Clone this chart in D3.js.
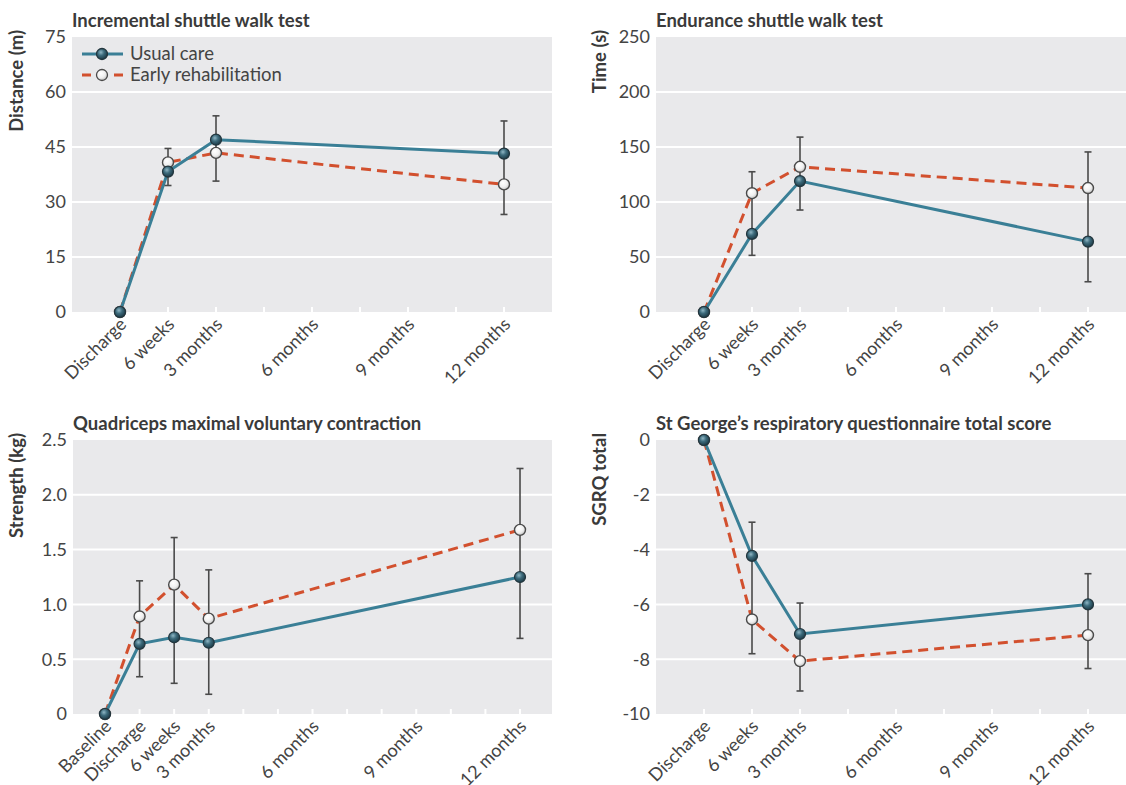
<!DOCTYPE html>
<html>
<head>
  <title>Rehabilitation outcomes</title>
  <style>
    body { margin: 0; background: #fff; }
    svg text { font-family: Lato, "Noto Sans", sans-serif; }
    .tick-label { font-size: 18px; fill: #444; }
    .panel-title { font-size: 18.5px; font-weight: bold; fill: #3a3a3a; }
    .y-title { font-size: 18.5px; font-weight: bold; fill: #3a3a3a; }
    .legend-label { font-size: 18.5px; fill: #444; }
  </style>
  <script src="https://d3js.org/d3.v7.min.js"></script>
</head>
<body>
  <div id="chart"></div>

  <script>
    // time points, as positions on an evenly spaced axis
    var visitLabels = ["Discharge", "6 weeks", "3 months", "", "6 months", "", "9 months", "", "12 months"];
    var visitPos = [0, 1, 2, 8];
    var strengthLabels = ["Baseline", "Discharge", "6 weeks", "3 months", "", "", "6 months", "", "", "9 months", "", "", "12 months"];
    var strengthPos = [0, 1, 2, 3, 12];

    // incremental shuttle walk test, distance (m)
    var iswtUsual = [0, 38.3, 47.0, 43.2];
    var iswtEarly = [0, 40.8, 43.4, 34.8];
    var iswtErrLow = [null, 34.5, 35.7, 26.6];
    var iswtErrHigh = [null, 44.6, 53.5, 52.1];
    var iswtTicks = [0, 15, 30, 45, 60, 75];

    // endurance shuttle walk test, time (s)
    var eswtUsual = [0, 71, 119, 64];
    var eswtEarly = [0, 108, 132, 112.7];
    var eswtErrLow = [null, 51.5, 92.7, 27.5];
    var eswtErrHigh = [null, 127.5, 159, 145.5];
    var eswtTicks = [0, 50, 100, 150, 200, 250];

    // quadriceps strength (kg)
    var quadUsual = [0, 0.64, 0.70, 0.65, 1.25];
    var quadEarly = [0, 0.89, 1.18, 0.87, 1.68];
    var quadErrLow = [null, 0.34, 0.28, 0.18, 0.69];
    var quadErrHigh = [null, 1.215, 1.61, 1.315, 2.24];
    var quadTicks = [0, 0.5, 1.0, 1.5, 2.0, 2.5];

    // SGRQ total score
    var sgrqUsual = [0, -4.23, -7.08, -6.0];
    var sgrqEarly = [0, -6.55, -8.07, -7.12];
    var sgrqErrLow = [null, -7.8, -9.16, -8.34];
    var sgrqErrHigh = [null, -3.0, -5.95, -4.88];
    var sgrqTicks = [-10, -8, -6, -4, -2, 0];

    var seriesNames = ["Usual care", "Early rehabilitation"];

    var blue = "#3a7f96";
    var red = "#d2502e";

    var svg = d3.select("#chart").append("svg")
      .attr("width", 1126)
      .attr("height", 785);

    // sphere-like marker fills
    var defs = svg.append("defs");
    var g1 = defs.append("radialGradient").attr("id", "usualFill")
      .attr("cx", "40%").attr("cy", "35%").attr("r", "65%");
    g1.append("stop").attr("offset", "0%").attr("stop-color", "#8fb6c4");
    g1.append("stop").attr("offset", "45%").attr("stop-color", "#3d6b7c");
    g1.append("stop").attr("offset", "100%").attr("stop-color", "#1d3a46");
    var g2 = defs.append("radialGradient").attr("id", "earlyFill")
      .attr("cx", "40%").attr("cy", "35%").attr("r", "65%");
    g2.append("stop").attr("offset", "0%").attr("stop-color", "#ffffff");
    g2.append("stop").attr("offset", "60%").attr("stop-color", "#f0f0f0");
    g2.append("stop").attr("offset", "100%").attr("stop-color", "#c4c4c4");

    function drawPanel(opt) {
      var x = d3.scaleLinear().domain(opt.xDomain).range([opt.left, opt.right]);
      var y = d3.scaleLinear().domain(opt.yDomain).range([opt.bottom, opt.top]);
      var g = svg.append("g");

      // plot background
      g.append("rect")
        .attr("x", opt.left).attr("y", opt.top)
        .attr("width", opt.right - opt.left)
        .attr("height", opt.bottom - opt.top)
        .attr("fill", "#e9e9eb");

      // grid lines
      g.selectAll(".grid").data(opt.yTicks.filter(function(d) {
          return d !== opt.yDomain[0] && d !== opt.yDomain[1];
        }))
        .enter().append("line")
        .attr("x1", opt.left).attr("x2", opt.right)
        .attr("y1", function(d) { return y(d); })
        .attr("y2", function(d) { return y(d); })
        .attr("stroke", "#fff").attr("stroke-width", 2);

      // y tick labels
      g.selectAll(".ylab").data(opt.yTicks).enter().append("text")
        .attr("class", "tick-label")
        .attr("x", opt.left - 6)
        .attr("y", function(d) { return y(d); })
        .attr("dy", "0.35em")
        .attr("text-anchor", "end")
        .text(opt.yFormat);

      // x ticks (white, inside plot) and labels
      var xTicks = d3.range(opt.xLabels.length);
      g.selectAll(".xtick").data(xTicks).enter().append("line")
        .attr("x1", function(d) { return x(d); })
        .attr("x2", function(d) { return x(d); })
        .attr("y1", opt.bottom - 5).attr("y2", opt.bottom)
        .attr("stroke", "#fff").attr("stroke-width", 2);

      g.selectAll(".xlab").data(xTicks.filter(function(d) { return opt.xLabels[d] !== ""; }))
        .enter().append("text")
        .attr("class", "tick-label")
        .attr("text-anchor", "end")
        .attr("transform", function(d) {
          return "translate(" + (x(d) + 3) + "," + (opt.bottom + 9) + ") rotate(-45)";
        })
        .attr("dy", "0.35em")
        .text(function(d) { return opt.xLabels[d]; });

      // titles
      g.append("text").attr("class", "panel-title")
        .attr("x", opt.left).attr("y", opt.top - 10)
        .text(opt.title);
      g.append("text").attr("class", "y-title")
        .attr("transform", "translate(" + opt.yTitleX + "," + (opt.top - 7) + ") rotate(-90)")
        .attr("text-anchor", "end")
        .attr("dy", "0.35em")
        .text(opt.yTitle);

      var line = d3.line()
        .x(function(d) { return x(d[0]); })
        .y(function(d) { return y(d[1]); });

      var usualPts = opt.xPos.map(function(p, i) { return [p, opt.usual[i]]; });
      var earlyPts = opt.xPos.map(function(p, i) { return [p, opt.early[i]]; });

      g.append("path").datum(earlyPts)
        .attr("d", line).attr("fill", "none")
        .attr("stroke", red).attr("stroke-width", 3)
        .attr("stroke-dasharray", "10,6");
      g.append("path").datum(usualPts)
        .attr("d", line).attr("fill", "none")
        .attr("stroke", blue).attr("stroke-width", 3);

      // error bars
      var errs = opt.xPos.map(function(p, i) { return [p, opt.errLow[i], opt.errHigh[i]]; })
        .filter(function(d) { return d[1] !== null; });
      var eb = g.selectAll(".err").data(errs).enter().append("g").attr("stroke", "#4a4a4a").attr("stroke-width", 1.6);
      eb.append("line")
        .attr("x1", function(d) { return x(d[0]); }).attr("x2", function(d) { return x(d[0]); })
        .attr("y1", function(d) { return y(d[1]); }).attr("y2", function(d) { return y(d[2]); });
      eb.append("line")
        .attr("x1", function(d) { return x(d[0]) - 3.5; }).attr("x2", function(d) { return x(d[0]) + 3.5; })
        .attr("y1", function(d) { return y(d[1]); }).attr("y2", function(d) { return y(d[1]); });
      eb.append("line")
        .attr("x1", function(d) { return x(d[0]) - 3.5; }).attr("x2", function(d) { return x(d[0]) + 3.5; })
        .attr("y1", function(d) { return y(d[2]); }).attr("y2", function(d) { return y(d[2]); });

      // markers
      g.selectAll(".mEarly").data(earlyPts).enter().append("circle")
        .attr("cx", function(d) { return x(d[0]); })
        .attr("cy", function(d) { return y(d[1]); })
        .attr("r", 5.5)
        .attr("fill", "url(#earlyFill)")
        .attr("stroke", "#4a4a4a").attr("stroke-width", 1.4);
      g.selectAll(".mUsual").data(usualPts).enter().append("circle")
        .attr("cx", function(d) { return x(d[0]); })
        .attr("cy", function(d) { return y(d[1]); })
        .attr("r", 5.5)
        .attr("fill", "url(#usualFill)")
        .attr("stroke", "#23363e").attr("stroke-width", 1.2);
    }

    function plainFmt(d) { return d; }

    drawPanel({
      title: "Incremental shuttle walk test", yTitle: "Distance (m)", yTitleX: 17,
      left: 72, right: 552, top: 37, bottom: 312,
      xDomain: [-1, 9], yDomain: [0, 75], yTicks: iswtTicks, yFormat: plainFmt,
      xLabels: visitLabels, xPos: visitPos,
      usual: iswtUsual, early: iswtEarly, errLow: iswtErrLow, errHigh: iswtErrHigh
    });
    drawPanel({
      title: "Endurance shuttle walk test", yTitle: "Time (s)", yTitleX: 600,
      left: 656, right: 1136, top: 37, bottom: 312,
      xDomain: [-1, 9], yDomain: [0, 250], yTicks: eswtTicks, yFormat: plainFmt,
      xLabels: visitLabels, xPos: visitPos,
      usual: eswtUsual, early: eswtEarly, errLow: eswtErrLow, errHigh: eswtErrHigh
    });
    drawPanel({
      title: "Quadriceps maximal voluntary contraction", yTitle: "Strength (kg)", yTitleX: 17,
      left: 73, right: 552, top: 440, bottom: 714,
      xDomain: [-0.925, 12.925], yDomain: [0, 2.5], yTicks: quadTicks,
      yFormat: function(d) { return d === 0 ? "0" : d.toFixed(1); },
      xLabels: strengthLabels, xPos: strengthPos,
      usual: quadUsual, early: quadEarly, errLow: quadErrLow, errHigh: quadErrHigh
    });
    drawPanel({
      title: "St George\u2019s respiratory questionnaire total score", yTitle: "SGRQ total", yTitleX: 600,
      left: 656, right: 1136, top: 440, bottom: 714,
      xDomain: [-1, 9], yDomain: [-10, 0], yTicks: sgrqTicks, yFormat: plainFmt,
      xLabels: visitLabels, xPos: visitPos,
      usual: sgrqUsual, early: sgrqEarly, errLow: sgrqErrLow, errHigh: sgrqErrHigh
    });

    // legend in the first panel
    var legend = svg.append("g").attr("transform", "translate(82,54)");
    var legendRows = legend.selectAll("g").data(seriesNames).enter().append("g")
      .attr("transform", function(d, i) { return "translate(0," + (i * 21) + ")"; });
    legendRows.append("line")
      .attr("x1", 0).attr("x2", 41).attr("y1", 0).attr("y2", 0)
      .attr("stroke", function(d, i) { return i === 0 ? blue : red; })
      .attr("stroke-width", 3)
      .attr("stroke-dasharray", function(d, i) { return i === 0 ? null : "9,7"; });
    legendRows.append("circle")
      .attr("cx", 20).attr("cy", 0).attr("r", 5.5)
      .attr("fill", function(d, i) { return i === 0 ? "url(#usualFill)" : "url(#earlyFill)"; })
      .attr("stroke", function(d, i) { return i === 0 ? "#23363e" : "#4a4a4a"; })
      .attr("stroke-width", 1.3);
    legendRows.append("text").attr("class", "legend-label")
      .attr("x", 48).attr("y", 0).attr("dy", "0.35em")
      .text(function(d) { return d; });
  </script>
</body>
</html>
